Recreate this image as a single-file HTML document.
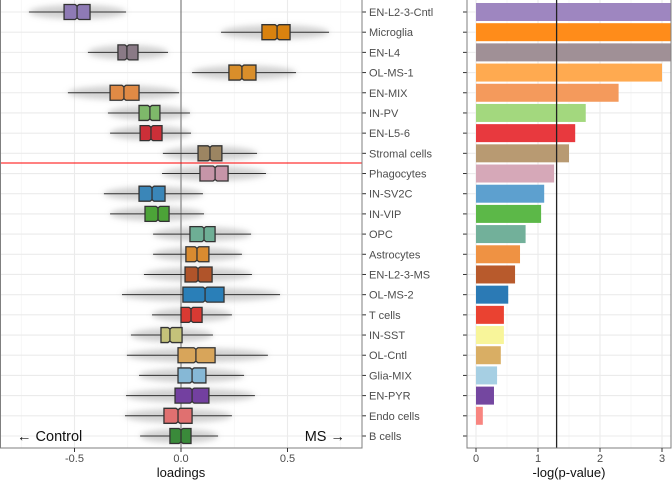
<!DOCTYPE html>
<html><head><meta charset="utf-8"><style>
body{margin:0;background:#fff;}
svg{display:block;font-family:"Liberation Sans",sans-serif;}
</style></head><body>
<svg id="chart" width="672" height="480" viewBox="0 0 672 480" xmlns="http://www.w3.org/2000/svg">
<defs><filter id="blur" x="-20%" y="-100%" width="140%" height="300%"><feGaussianBlur stdDeviation="3"/></filter></defs>
<g id="left"></g><g id="right"></g>
</svg>
<script>
const categories=["EN-L2-3-Cntl","Microglia","EN-L4","OL-MS-1","EN-MIX","IN-PV","EN-L5-6","Stromal cells","Phagocytes","IN-SV2C","IN-VIP","OPC","Astrocytes","EN-L2-3-MS","OL-MS-2","T cells","IN-SST","OL-Cntl","Glia-MIX","EN-PYR","Endo cells","B cells"];
const whiskerLow=[-.714,.188,-.437,.052,-.531,-.343,-.333,-.085,-.089,-.362,-.333,-.131,-.131,-.174,-.277,-.136,-.235,-.254,-.197,-.258,-.263,-.192];
const q1=[-.549,.380,-.296,.225,-.333,-.197,-.192,.080,.089,-.197,-.169,.042,.023,.019,.009,0,-.094,-.014,-.014,-.028,-.080,-.052];
const medians=[-.488,.451,-.254,.286,-.268,-.146,-.141,.136,.160,-.136,-.108,.108,.075,.080,.113,.047,-.052,.070,.052,.052,-.014,0];
const q3=[-.427,.512,-.202,.352,-.197,-.099,-.089,.192,.221,-.075,-.056,.160,.131,.146,.202,.099,.005,.160,.117,.131,.052,.047];
const whiskerHigh=[-.258,.695,-.061,.540,-.009,.042,.047,.357,.399,.103,.108,.329,.286,.333,.465,.239,.150,.408,.296,.347,.239,.174];
const pvals=[3.3,3.3,3.3,3.0,2.3,1.77,1.6,1.5,1.26,1.1,1.05,0.8,0.71,0.63,0.52,0.45,0.45,0.4,0.34,0.29,0.11,0];
const xTicksL=[-0.5,0,0.5];const xTickLabelsL=["-0.5","0.0","0.5"];
const xTicksR=[0,1,2,3];const xTickLabelsR=["0","1","2","3"];
const boxColors=["#8e7ab5","#d9820f","#8a7a86","#d98e2a","#e08a45","#7eb86a","#cc2f38","#9c8562","#c695a8","#3a86b8","#4ca338","#6eae95","#d98b30","#b0542a","#2a7fb8","#d93a33","#c4c27a","#d8a55a","#86b8d6","#7340a0","#e07070","#3a8a3a"];
const barColors=["#9e86c0","#ff8c1a","#a09096","#ffaa50","#f49a5c","#a3d87e","#e8393e","#b89a72","#d6a8b8","#5da0cf","#5cb848","#72b09a","#ef9243","#b85a2c","#2b7ab5","#ea4231","#f8f59a","#d9ae64","#a6cfe3","#7447a0","#f88580","#3a8a3a"];
const NS="http://www.w3.org/2000/svg";
const xL=v=>181+213*v, xR=v=>476+62*v, yRow=i=>12+i*20.19;
const LX0=0,LX1=362,RX0=467,RX1=671,PY0=0,PY1=448;
function mk(p,t,a){const e=document.createElementNS(NS,t);for(const k in a)e.setAttribute(k,a[k]);p.appendChild(e);return e;}
const L=document.getElementById('left'),R=document.getElementById('right');
for(const v of [-0.75,-0.25,0.25,0.75]){const g=mk(L,'line',{x1:xL(v),x2:xL(v),y1:PY0,y2:PY1,stroke:'#f2f2f2','stroke-width':0.6});}
xTicksL.forEach(v=>{const g=mk(L,'line',{x1:xL(v),x2:xL(v),y1:PY0,y2:PY1,stroke:'#ebebeb','stroke-width':1.1});});
categories.forEach((c,i)=>{const g=mk(L,'line',{x1:LX0,x2:LX1,y1:yRow(i),y2:yRow(i),stroke:'#ebebeb','stroke-width':1.1});});
const z=mk(L,'line',{x1:xL(0),x2:xL(0),y1:PY0,y2:PY1,stroke:'#666','stroke-width':1});

categories.forEach((c,i)=>{
 const y=yRow(i),h=7.5;
 const cl=mk(L,'ellipse',{cx:(xL(whiskerLow[i])+xL(whiskerHigh[i]))/2,cy:y,rx:(xL(whiskerHigh[i])-xL(whiskerLow[i]))/2,ry:7,fill:'#999','fill-opacity':0.45,filter:'url(#blur)'});
 
 const w=mk(L,'line',{x1:xL(whiskerLow[i]),x2:xL(whiskerHigh[i]),y1:y,y2:y,stroke:'#333','stroke-width':1});
 
 const a=xL(q1[i]),m=xL(medians[i]),b=xL(q3[i]),n=2,d=1.5;
 const pts=[[a,y-h],[m-n,y-h],[m,y-h+d],[m+n,y-h],[b,y-h],[b,y+h],[m+n,y+h],[m,y+h-d],[m-n,y+h],[a,y+h]].map(p=>p.join(',')).join(' ');
 const bx=mk(L,'polygon',{points:pts,fill:boxColors[i],stroke:'#333','stroke-width':1.3});
 
 const md=mk(L,'line',{x1:m,x2:m,y1:y-h+d,y2:y+h-d,stroke:'#333','stroke-width':1.3});
 
 const t=mk(L,'line',{x1:LX1,x2:LX1+4,y1:y,y2:y,stroke:'#333'});
 
 const lb=mk(L,'text',{x:369,y:y+4,'font-size':11,fill:'#4d4d4d'});lb.textContent=c;
 
});
const rl=mk(L,'line',{x1:LX0,x2:LX1,y1:163,y2:163,stroke:'#ff0000','stroke-width':1});

const lbord=mk(L,'rect',{x:LX0+0.5,y:PY0-1,width:LX1-LX0-0.5,height:PY1-PY0+1,fill:'none',stroke:'#7f7f7f','stroke-width':1});

xTicksL.forEach((v,k)=>{const t=mk(L,'line',{x1:xL(v),x2:xL(v),y1:PY1,y2:PY1+4,stroke:'#333'});
 const tl=mk(L,'text',{x:xL(v),y:462,'font-size':11,fill:'#4d4d4d','text-anchor':'middle'});tl.textContent=xTickLabelsL[k];});
let tt=mk(L,'text',{x:181,y:477,'font-size':13,fill:'#111','text-anchor':'middle'});tt.textContent='loadings';
tt=mk(L,'text',{x:17,y:441,'font-size':14.5,fill:'#111'});tt.textContent='← Control';
tt=mk(L,'text',{x:345,y:441,'font-size':14.5,fill:'#111','text-anchor':'end'});tt.textContent='MS →';
for(const v of [0.5,1.5,2.5]){const g=mk(R,'line',{x1:xR(v),x2:xR(v),y1:PY0,y2:PY1,stroke:'#f2f2f2','stroke-width':0.6});}
xTicksR.forEach(v=>{const g=mk(R,'line',{x1:xR(v),x2:xR(v),y1:PY0,y2:PY1,stroke:'#ebebeb','stroke-width':1.1});});
categories.forEach((c,i)=>{
 const y=yRow(i);
 const g=mk(R,'line',{x1:RX0,x2:RX1,y1:y,y2:y,stroke:'#ebebeb','stroke-width':1.1});
 const w=Math.min(xR(pvals[i]),RX1)-xR(0);
 const b=mk(R,'rect',{x:xR(0),y:y-9,width:Math.max(w,0),height:18,fill:barColors[i]});
 
 const t=mk(R,'line',{x1:RX0-4,x2:RX0,y1:y,y2:y,stroke:'#333'});
});
const sig=mk(R,'line',{x1:xR(1.3),x2:xR(1.3),y1:PY0,y2:PY1,stroke:'#222','stroke-width':1.3});

const rb=mk(R,'rect',{x:RX0,y:PY0-1,width:RX1-RX0,height:PY1-PY0+1,fill:'none',stroke:'#7f7f7f','stroke-width':1});

xTicksR.forEach((v,k)=>{const t=mk(R,'line',{x1:xR(v),x2:xR(v),y1:PY1,y2:PY1+4,stroke:'#333'});
 const tl=mk(R,'text',{x:xR(v),y:462,'font-size':11,fill:'#4d4d4d','text-anchor':'middle'});tl.textContent=xTickLabelsR[k];});
tt=mk(R,'text',{x:569,y:477,'font-size':13,fill:'#111','text-anchor':'middle'});tt.textContent='-log(p-value)';
</script>
</body></html>
